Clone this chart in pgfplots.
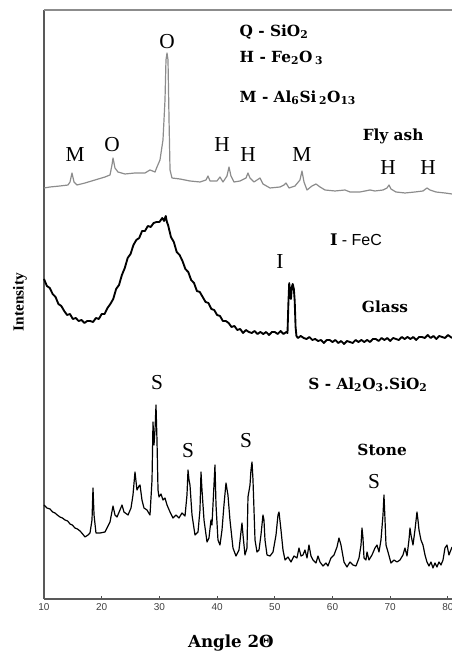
\documentclass[border=0pt]{standalone}
\usepackage{fontspec}
\setmainfont{Liberation Serif}
\newfontfamily\dvs{DejaVu Serif}
\newfontfamily\tickfont{Liberation Sans}
\usepackage{pgfplots}
\pgfplotsset{compat=1.18}
\definecolor{ashgray}{HTML}{8C8C8C}
\newcommand{\pk}{\fontsize{16}{16}\selectfont}
\newcommand{\bl}{\dvs\bfseries\fontsize{11.5}{13}\selectfont}
\begin{document}
\begin{tikzpicture}
\path[use as bounding box] (-33pt,-42pt) rectangle (306pt,449.25pt);
\begin{axis}[
  scale only axis, width=306pt, height=441.75pt,
  xmin=10, xmax=80.71, ymin=0, ymax=589,
  axis x line=bottom, axis y line=left,
  axis line style={-, draw=black!65, line width=0.8pt},
  xtick={10,20,...,80}, ytick=\empty,
  tick align=inside, major tick length=2pt,
  tick style={black!70, line width=0.8pt},
  ticklabel style={font=\tickfont\fontsize{7.5}{8}\selectfont, text=black!75},
  /pgf/number format/assume math mode=true,
  xlabel={Angle 2Θ}, ylabel={Intensity},
  xlabel style={font=\dvs\bfseries\fontsize{12.5}{14}\selectfont, at={(axis description cs:0.458,-0.0747)}, anchor=center},
  ylabel style={font=\bfseries\fontsize{11.5}{13}\selectfont, at={(axis description cs:-0.0588,0.504)}, anchor=center},
  clip=false,
]
% Fly ash
\addplot[ashgray, line width=0.9pt, line join=round] coordinates {
(10.0,411) (11.04,412) (12.77,413) (14.16,414) (14.51,417) (14.85,426) (15.2,417) (15.72,414)
(17.11,416) (18.84,419) (20.57,422) (21.44,424) (21.78,434) (21.96,441) (22.30,431) (22.82,427)
(24.04,425) (25.77,426) (27.50,426) (28.37,429) (29.24,427) (29.58,432) (30.10,439) (30.62,459)
(30.97,499) (31.14,539) (31.32,546) (31.49,539) (31.67,479) (31.84,429) (32.18,421) (33.57,420)
(35.30,418) (37.03,417) (38.07,419) (38.42,423) (38.77,418) (39.98,418) (40.50,422) (41.02,417)
(41.71,423) (42.06,432) (42.40,423) (42.93,417) (43.97,418) (45.01,421) (45.35,426) (45.70,421)
(46.39,417) (46.91,419) (47.43,421) (47.95,415) (49.17,411) (50.9,412) (51.59,414) (51.94,416)
(52.46,411) (53.50,413) (54.36,419) (54.71,428) (55.06,417) (55.58,409) (56.44,413) (57.14,415)
(57.83,412) (58.70,409) (60.43,408) (62.16,409) (63.03,407) (64.76,407) (66.50,409) (67.36,408)
(68.75,409) (69.44,411) (69.79,414) (70.13,410) (71.00,407) (72.56,406) (74.29,407) (75.68,408)
(76.37,411) (76.89,409) (77.93,407) (79.49,406) (80.71,405)
};
% Glass
\addplot[black, line width=1.4pt, line join=round] coordinates {
(10.0,320) (10.5,313) (11.0,311) (11.5,305) (12.0,302) (12.5,295) (13.0,293) (13.5,288)
(14.0,284) (14.5,285) (15.0,280) (15.5,281) (16.0,278) (16.5,279) (17.0,276) (17.5,278)
(18.0,278) (18.5,277) (19.0,281) (19.5,280) (20.0,285) (20.5,285) (21.0,291) (21.5,295)
(22.0,300) (22.5,310) (23.0,314) (23.5,324) (24.0,331) (24.5,341) (25.0,345) (25.5,354)
(26.0,359) (26.5,361) (27.0,368) (27.5,368) (28.0,373) (28.5,372) (29.0,376) (29.5,377)
(30.0,377) (30.5,381) (30.8,378) (31.1,383) (31.3,377) (31.5,374) (32.0,362) (32.5,357)
(33.0,347) (33.5,344) (34.0,338) (34.5,330) (35.0,327) (35.5,319) (36.0,316) (36.5,308)
(37.0,307) (37.5,302) (38.0,297) (38.5,296) (39.0,290) (39.5,289) (40.0,284) (40.5,283)
(41.0,278) (41.5,278) (42.0,276) (42.5,272) (43.0,273) (43.5,269) (44.0,270) (44.5,266)
(45.0,269) (45.5,267) (46.0,266) (46.5,268) (47.0,265) (47.5,267) (48.0,265) (48.5,267)
(49.0,264) (49.5,267) (50.0,267) (50.5,265) (51.0,268) (51.5,265) (52.0,267) (52.2,266)
(52.35,295) (52.5,316) (52.65,305) (52.8,300) (52.95,312) (53.1,315) (53.3,310) (53.45,298)
(53.6,272) (53.75,263) (54.0,261) (54.5,263) (55.0,261) (55.5,260) (56.0,262) (56.5,259)
(57.0,260) (57.5,258) (58.0,259) (58.5,256) (59.0,259) (59.5,259) (60.0,257) (60.5,259)
(61.0,256) (61.5,258) (62.0,255) (62.5,258) (63.0,257) (63.5,256) (64.0,259) (64.5,257)
(65.0,259) (65.5,257) (66.0,259) (66.5,257) (67.0,260) (67.5,260) (68.0,258) (68.5,261)
(69.0,259) (69.5,261) (70.0,258) (70.5,261) (71.0,260) (71.5,259) (72.0,262) (72.5,260)
(73.0,262) (73.5,260) (74.0,262) (74.5,259) (75.0,262) (75.5,262) (76.0,261) (76.5,264)
(77.0,261) (77.5,263) (78.0,260) (78.5,263) (79.0,262) (79.5,261) (80.0,264) (80.71,261)
};
% Stone
\addplot[black, line width=0.9pt, line join=round] coordinates {
(10.0,94) (10.5,91) (11.04,90) (11.5,87) (11.91,86) (12.3,84) (12.77,82) (13.2,81) (13.64,79)
(14.1,78) (14.51,75) (14.9,74) (15.37,71) (15.8,70) (16.24,68) (16.7,65) (17.11,62) (17.62,64)
(17.97,66) (18.32,79) (18.49,111) (18.67,84) (19.01,66) (19.70,66) (20.57,67) (21.09,73)
(21.44,77) (21.96,93) (22.30,84) (22.65,82) (23.17,89) (23.52,94) (23.86,87) (24.56,84)
(25.08,91) (25.42,104) (25.77,127) (26.11,109) (26.46,113) (26.64,114) (26.98,99) (27.33,91)
(27.85,89) (28.37,84) (28.72,119) (28.89,177) (29.06,154) (29.24,169) (29.41,194) (29.58,159)
(29.76,109) (29.93,102) (30.28,105) (30.62,99) (30.97,101) (31.32,94) (31.84,87) (32.35,81)
(32.87,84) (33.39,81) (33.91,86) (34.44,83) (34.78,104) (34.96,129) (35.13,119) (35.30,114)
(35.65,84) (36.17,64) (36.69,67) (37.03,89) (37.21,127) (37.38,109) (37.73,79) (38.25,57)
(38.59,61) (38.94,79) (39.11,74) (39.46,114) (39.63,134) (39.81,94) (40.15,59) (40.50,54)
(40.85,69) (41.19,94) (41.54,116) (41.88,104) (42.23,79) (42.75,51) (43.27,43) (43.79,49)
(44.14,67) (44.31,76) (44.49,64) (44.83,44) (45.18,51) (45.35,102) (45.70,114) (45.87,129)
(46.05,137) (46.22,119) (46.57,59) (46.91,47) (47.26,49) (47.60,64) (47.95,84) (48.12,79)
(48.30,59) (48.65,44) (49.17,43) (49.69,47) (50.21,64) (50.55,84) (50.73,87) (51.07,69)
(51.42,49) (51.77,39) (52.28,42) (52.81,37) (53.33,43) (53.84,41) (54.19,51) (54.54,43)
(54.88,44) (55.23,49) (55.58,41) (55.92,54) (56.27,43) (56.62,39) (57.14,36) (57.48,43)
(57.83,37) (58.35,33) (58.87,36) (59.21,33) (59.73,41) (60.26,44) (60.78,52) (61.12,61)
(61.47,54) (61.99,37) (62.51,32) (63.03,37) (63.55,34) (64.07,33) (64.59,41) (64.94,54)
(65.11,71) (65.28,61) (65.46,41) (65.80,39) (65.98,47) (66.32,39) (66.84,44) (67.36,51)
(67.71,54) (68.06,47) (68.40,59) (68.75,84) (68.92,104) (69.10,79) (69.27,54) (69.62,47)
(70.13,36) (70.65,39) (71.17,37) (71.69,39) (72.21,44) (72.56,51) (72.91,43) (73.25,59)
(73.43,71) (73.60,64) (73.95,54) (74.29,69) (74.64,87) (74.81,79) (74.99,69) (75.33,59)
(75.68,54) (76.03,44) (76.37,37) (76.72,33) (77.07,37) (77.41,31) (77.76,36) (78.11,32)
(78.45,37) (78.80,34) (79.15,39) (79.49,51) (79.84,54) (80.18,44) (80.71,52)
};
\draw[black!45, line width=0.8pt] (axis description cs:0,1) -- (axis description cs:1,1);
% annotations
\node[anchor=west, font=\bl] at (axis cs:43.1,567) {Q - SiO\textsubscript{2}};
\node[anchor=west, font=\bl] at (axis cs:43.1,541) {H - Fe\textsubscript{2}O\,\textsubscript{3}};
\node[anchor=west, font=\bl] at (axis cs:43.1,501) {M - Al\textsubscript{6}Si\,\textsubscript{2}O\textsubscript{13}};
\node[font=\bl] at (axis cs:70.5,463) {Fly ash};
\node[font=\fontsize{12}{13}\selectfont] at (axis cs:64.07,359) {\dvs\bfseries I\tickfont\mdseries\ - FeC};
\node[font=\bl] at (axis cs:69.1,292) {Glass};
\node[font=\bl] at (axis cs:66.15,214) {S - Al\textsubscript{2}O\textsubscript{3}.SiO\textsubscript{2}};
\node[font=\bl] at (axis cs:68.6,149) {Stone};
% peak labels
\node[font=\pk] at (axis cs:15.37,444) {M};
\node[font=\pk] at (axis cs:21.78,454) {O};
\node[font=\pk] at (axis cs:31.32,557) {O};
\node[font=\pk] at (axis cs:40.85,454) {H};
\node[font=\pk] at (axis cs:45.35,444) {H};
\node[font=\pk] at (axis cs:54.71,444) {M};
\node[font=\pk] at (axis cs:69.62,431) {H};
\node[font=\pk] at (axis cs:76.55,431) {H};
\node[font=\pk] at (axis cs:50.9,337) {I};
\node[font=\pk] at (axis cs:29.58,216) {S};
\node[font=\pk] at (axis cs:34.96,148) {S};
\node[font=\pk] at (axis cs:45.01,158) {S};
\node[font=\pk] at (axis cs:67.19,117) {S};
\end{axis}
\end{tikzpicture}
\end{document}
